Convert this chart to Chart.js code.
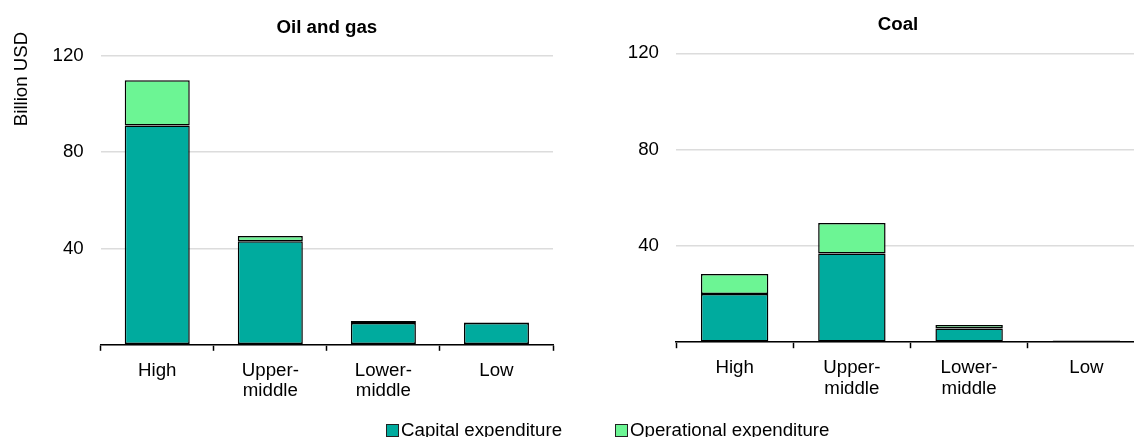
<!DOCTYPE html>
<html>
<head>
<meta charset="utf-8">
<script src="https://cdn.jsdelivr.net/npm/chart.js@4/dist/chart.umd.min.js"></script>
<style>
  body { margin: 0; background: #fff; }
  #wrap { position: relative; width: 1134px; height: 437px; overflow: hidden; font-family: Arial, "Liberation Sans", sans-serif; }
  #wrap canvas { position: absolute; top: 0; }
  #oilGas { left: 0; }
  #coal { left: 580px; }
  .leg { position: absolute; top: 420px; font-size: 18.7px; line-height: 20px; color: #000; white-space: nowrap; }
  .box { position: absolute; top: 424px; width: 11px; height: 11px; border: 1px solid #222; }
</style>
</head>
<body>
<div id="wrap">
  <canvas id="oilGas" width="580" height="437"></canvas>
  <canvas id="coal" width="566" height="437"></canvas>
  <div class="box" style="left:386px;background:#00ab9e"></div>
  <div class="leg" style="left:401px">Capital expenditure</div>
  <div class="box" style="left:615px;background:#6cf594"></div>
  <div class="leg" style="left:630px">Operational expenditure</div>
</div>
<script>
const incomeGroups = ['High', ['Upper-', 'middle'], ['Lower-', 'middle'], 'Low'];
const oilGasCapex = [91, 43, 9, 9];
const oilGasOpex = [18.8, 2.2, 0.9, 0.3];
const coalCapex = [20, 36.8, 5.7, 0.5];
const coalOpex = [8.3, 12.7, 1.4, 0.2];
const yTicks = [0, 40, 80, 120];

const capexColor = '#00ab9e';
const opexColor = '#6cf594';

Chart.defaults.font.family = 'Arial, "Liberation Sans", sans-serif';
Chart.defaults.font.size = 18.7;
Chart.defaults.color = '#000';

// panel title + y axis title, drawn relative to the plot area
const panelText = {
  id: 'panelText',
  afterDraw(chart, args, opts) {
    const { ctx, chartArea } = chart;
    ctx.save();
    ctx.fillStyle = '#000';
    ctx.font = 'bold 18.7px Arial, "Liberation Sans", sans-serif';
    ctx.textAlign = 'center';
    ctx.textBaseline = 'alphabetic';
    ctx.fillText(opts.title, (chartArea.left + chartArea.right) / 2 + opts.titleShift, chartArea.top - 23);
    if (opts.yTitle) {
      ctx.font = '18.7px Arial, "Liberation Sans", sans-serif';
      ctx.translate(27, chartArea.top - 24);
      ctx.rotate(-Math.PI / 2);
      ctx.textAlign = 'right';
      ctx.fillText(opts.yTitle, 0, 0);
    }
    ctx.restore();
  }
};

function makeChart(id, capex, opex, title, titleShift, yTitle, pad) {
  const ctx = document.getElementById(id).getContext('2d');
  return new Chart(ctx, {
    type: 'bar',
    data: {
      labels: incomeGroups,
      datasets: [{
        label: 'Capital expenditure',
        data: capex,
        backgroundColor: capexColor,
        borderColor: '#000',
        borderWidth: 1.5,
        borderSkipped: false
      }, {
        label: 'Operational expenditure',
        data: opex,
        backgroundColor: opexColor,
        borderColor: '#000',
        borderWidth: 1.5,
        borderSkipped: false
      }]
    },
    options: {
      responsive: false,
      animation: false,
      devicePixelRatio: 1,
      layout: { padding: pad },
      datasets: { bar: { barPercentage: 0.575, categoryPercentage: 1 } },
      plugins: {
        legend: { display: false },
        tooltip: { enabled: false },
        title: { display: false },
        panelText: { title: title, titleShift: titleShift, yTitle: yTitle }
      },
      scales: {
        x: {
          stacked: true,
          border: { display: true, color: '#000', width: 1.5 },
          grid: { offset: true, drawOnChartArea: false, drawTicks: true, tickLength: 6, tickColor: '#000', tickWidth: 1.5, color: '#000' },
          ticks: { padding: 10, maxRotation: 0, autoSkip: false, font: { size: 18.7, lineHeight: 1.08 } }
        },
        y: {
          stacked: true,
          min: 0,
          max: 120,
          afterBuildTicks: s => { s.ticks = yTicks.map(v => ({ value: v })); },
          afterFit: s => { s.width = 50; },
          border: { display: false },
          grid: { color: '#dcdcdc', lineWidth: 1.5, drawTicks: false },
          ticks: { padding: 17, callback: v => v === 0 ? '' : v, font: { size: 18.7 } }
        }
      }
    },
    plugins: [panelText]
  });
}

makeChart('oilGas', oilGasCapex, oilGasOpex, 'Oil and gas', 0, 'Billion USD',
  { left: 50.7, right: 27, top: 55.7, bottom: 25.8 });
makeChart('coal', coalCapex, coalOpex, 'Coal', -12.5, null,
  { left: 46, right: 1, top: 53.3, bottom: 28.4 });
</script>
</body>
</html>
